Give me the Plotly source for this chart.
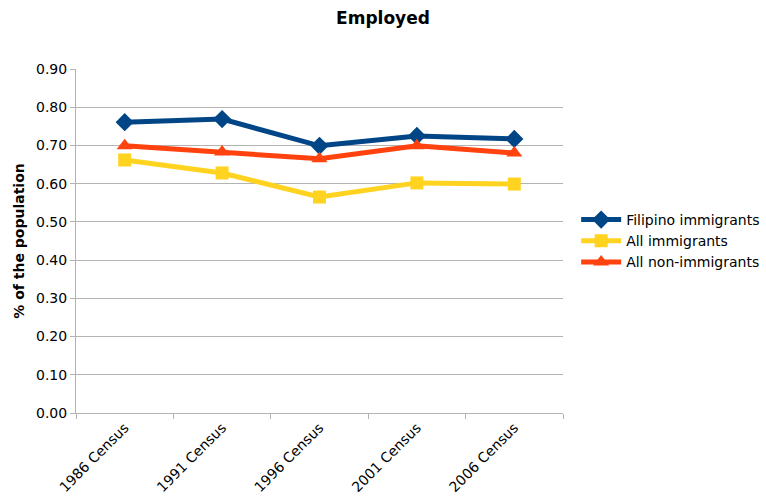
import plotly.graph_objects as go

categories = ["1986 Census", "1991 Census", "1996 Census", "2001 Census", "2006 Census"]
filipino = [0.761, 0.769, 0.699, 0.725, 0.717]
all_imm = [0.662, 0.628, 0.565, 0.602, 0.599]
non_imm = [0.699, 0.683, 0.665, 0.699, 0.680]

series = [
    ("Filipino immigrants", filipino, "#004586", "diamond", 14),
    ("All immigrants", all_imm, "#FFD320", "square", 13),
    ("All non-immigrants", non_imm, "#FF420E", "triangle-up", 14),
]

fig = go.Figure()
for name, vals, col, sym, sz in series:
    fig.add_trace(go.Scatter(
        x=categories, y=vals, name=name, mode="lines+markers",
        line=dict(color=col, width=5),
        marker=dict(symbol=sym, size=sz, color=col),
    ))

font = "Verdana, DejaVu Sans, sans-serif"
fig.update_layout(
    width=766, height=502,
    margin=dict(l=76, r=203, t=69, b=89, autoexpand=False),
    paper_bgcolor="white", plot_bgcolor="white",
    font=dict(family=font, size=14, color="#000000"),
    title=dict(text="<b>Employed</b>", x=0.5, xref="container", xanchor="center",
               y=0.964, yanchor="middle", font=dict(size=17)),
    showlegend=True,
    legend=dict(x=1.027, y=0.5, xanchor="left", yanchor="middle",
                font=dict(size=14), tracegroupgap=0, itemwidth=40,
                bgcolor="rgba(0,0,0,0)"),
)
fig.update_xaxes(
    type="category", range=[-0.5, 4.5], tickson="boundaries",
    ticks="outside", ticklen=5, tickcolor="#b3b3b3",
    showline=True, linecolor="#b3b3b3", linewidth=1,
    showgrid=False, tickangle=-45, tickfont=dict(size=14), automargin=False,
)
fig.update_yaxes(
    range=[0, 0.9], dtick=0.1, tickformat=".2f",
    ticks="outside", ticklen=5, tickcolor="#b3b3b3",
    showline=True, linecolor="#b3b3b3", linewidth=1,
    showgrid=True, gridcolor="#b3b3b3", gridwidth=1,
    zeroline=False, automargin=False,
    title=dict(text="<b>% of the population</b>", font=dict(size=14), standoff=8),
    tickfont=dict(size=14),
)

fig.write_html("out.html")
